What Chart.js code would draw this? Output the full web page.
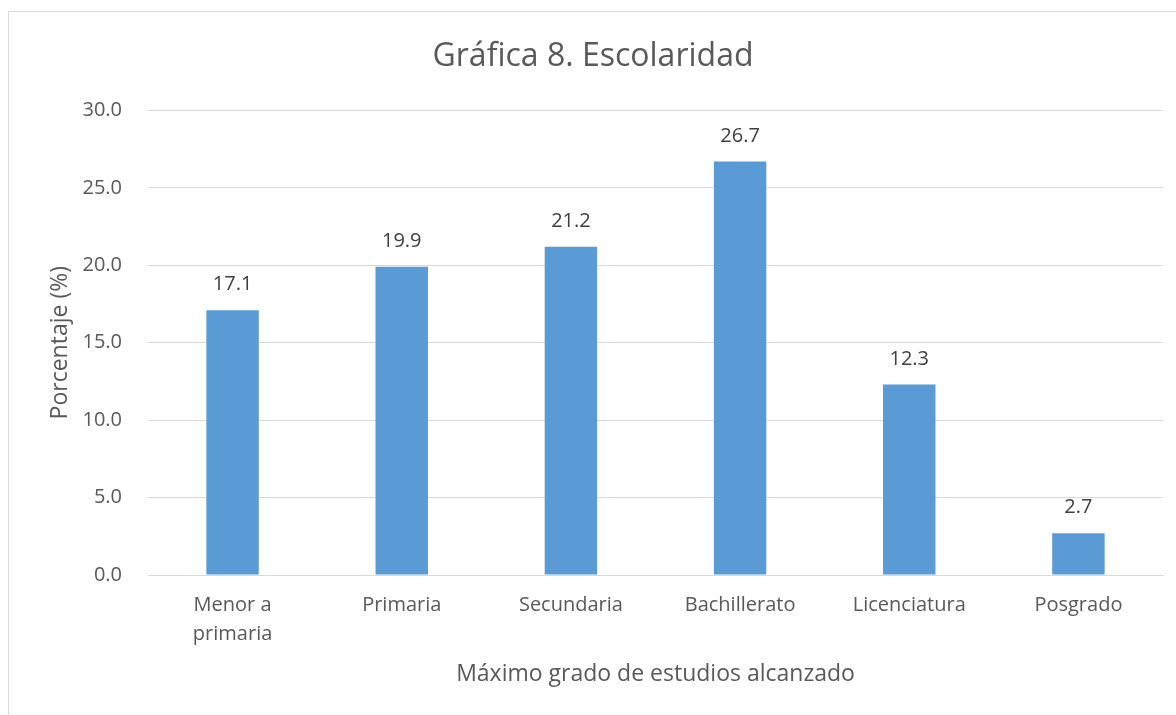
<!DOCTYPE html>
<html>
<head>
<meta charset="utf-8">
<script src="https://cdn.jsdelivr.net/npm/chart.js@4.4.0/dist/chart.umd.min.js"></script>
<style>
  html, body { margin: 0; padding: 0; background: #fff; overflow: hidden; }
  #frame { position: absolute; left: 8px; top: 11px; width: 1180px; height: 720px; border: 1px solid #d9d9d9; box-sizing: border-box; }
  #wrap { position: absolute; left: 0; top: 0; width: 1168px; height: 704px; }
</style>
</head>
<body>
<div id="frame"><div id="wrap"><canvas id="c"></canvas></div></div>
<script>
const categories = [["Menor a", "primaria"], "Primaria", "Secundaria", "Bachillerato", "Licenciatura", "Posgrado"];
const values = [17.1, 19.9, 21.2, 26.7, 12.3, 2.7];
const chartTitle = "Gráfica 8. Escolaridad";
const xTitle = "Máximo grado de estudios alcanzado";
const yTitle = "Porcentaje (%)";

const FONT = "'Open Sans', 'Noto Sans', sans-serif";

const valueLabels = {
  id: 'valueLabels',
  afterDatasetsDraw(chart) {
    const ctx = chart.ctx;
    const meta = chart.getDatasetMeta(0);
    ctx.save();
    ctx.font = "20px " + FONT;
    ctx.fillStyle = "#404040";
    ctx.textAlign = "center";
    ctx.textBaseline = "alphabetic";
    meta.data.forEach((bar, i) => {
      ctx.fillText(values[i].toFixed(1), bar.x, bar.y - 20);
    });
    ctx.restore();
  }
};

new Chart(document.getElementById('c'), {
  type: 'bar',
  data: {
    labels: categories,
    datasets: [{
      data: values,
      backgroundColor: '#5B9BD5',
      borderWidth: 0,
      barPercentage: 0.62,
      categoryPercentage: 0.5
    }]
  },
  options: {
    responsive: true,
    maintainAspectRatio: false,
    animation: false,
    layout: { padding: { left: 14, right: 14, top: 0, bottom: 0 } },
    plugins: {
      legend: { display: false },
      tooltip: { enabled: false },
      title: {
        display: true,
        text: chartTitle,
        color: '#595959',
        font: { family: FONT, size: 32, weight: 'normal' },
        padding: { top: 26, bottom: 34 }
      }
    },
    scales: {
      x: {
        grid: { display: false, drawTicks: false },
        border: { display: true, color: '#d9d9d9', width: 1 },
        ticks: {
          color: '#595959',
          font: { family: FONT, size: 20, lineHeight: 1.45 },
          padding: 16,
          maxRotation: 0,
          autoSkip: false
        },
        title: {
          display: true,
          text: xTitle,
          color: '#595959',
          font: { family: FONT, size: 23 },
          padding: { top: 28, bottom: 28 }
        },
        afterFit(scale) { scale.height = 141; }
      },
      y: {
        min: 0,
        max: 30,
        ticks: {
          stepSize: 5,
          color: '#595959',
          font: { family: FONT, size: 20 },
          padding: 26,
          callback: v => Number(v).toFixed(1)
        },
        grid: { color: '#d9d9d9', lineWidth: 1, drawTicks: false },
        border: { display: false },
        title: {
          display: true,
          text: yTitle,
          color: '#595959',
          font: { family: FONT, size: 23 },
          padding: { top: 24, bottom: 24 }
        },
        afterFit(scale) { scale.width = 125; }
      }
    }
  },
  plugins: [valueLabels]
});
</script>
</body>
</html>
